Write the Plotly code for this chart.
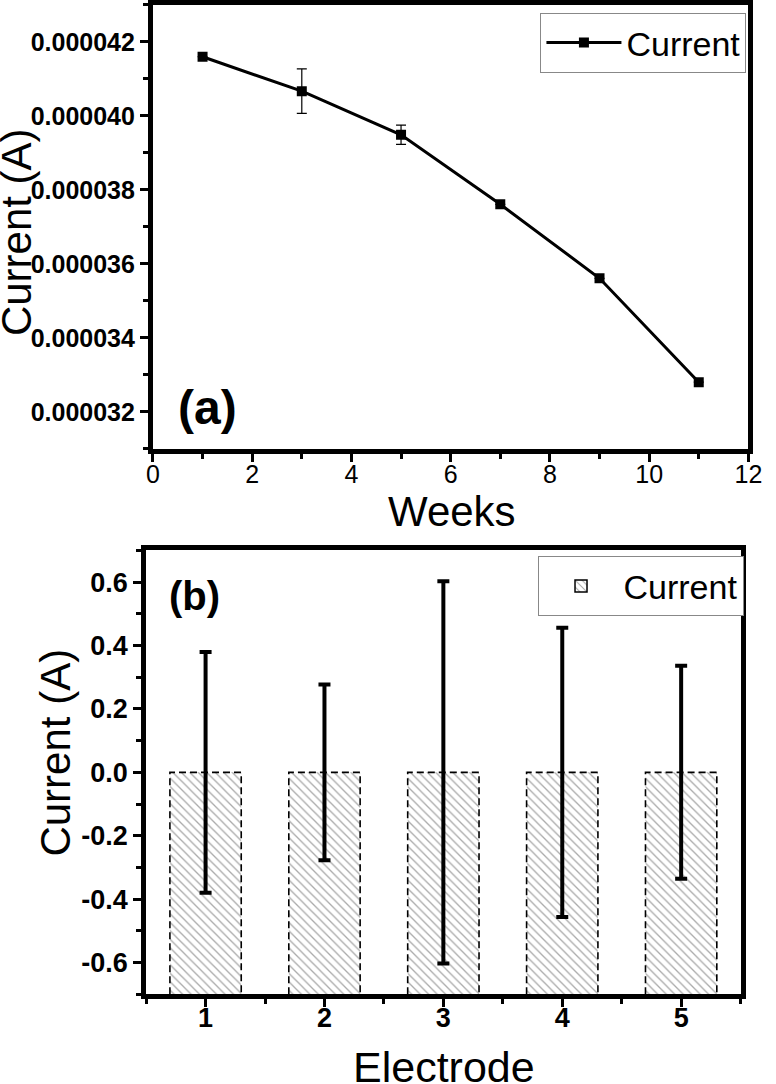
import plotly.graph_objects as go

W, H = 776, 1084

# ---------------- data ----------------
WEEKS = [1, 3, 5, 7, 9, 11]
CURRENT_A = [41.6e-6, 40.67e-6, 39.49e-6, 37.61e-6, 35.61e-6, 32.8e-6]
CURRENT_A_ERR = [0.0, 0.6e-6, 0.26e-6, 0.0, 0.0, 0.0]
X_TICKS_A = [0, 2, 4, 6, 8, 10, 12]
Y_TICKS_A = [32e-6, 34e-6, 36e-6, 38e-6, 40e-6, 42e-6]

ELECTRODES = [1, 2, 3, 4, 5]
CURRENT_B = [0.0, 0.0, 0.0, 0.0, 0.0]
CURRENT_B_ERR = [0.38, 0.277, 0.603, 0.456, 0.336]
Y_TICKS_B = [-0.6, -0.4, -0.2, 0.0, 0.2, 0.4, 0.6]

Y_RANGE_A = [31e-6, 43e-6]
X_RANGE_A = [0, 12]
Y_RANGE_B = [-0.7, 0.7]
X_RANGE_B = [0.5, 5.5]
BAR_W = 0.6

FONT = "Liberation Sans, Arial, sans-serif"


def px_x(p):
    return p / W


def px_y(p):
    return 1 - p / H


fig = go.Figure()

# ---------------- panel (a) ----------------
fig.add_trace(go.Scatter(
    x=WEEKS, y=CURRENT_A, mode="lines+markers", name="Current",
    line=dict(color="black", width=3),
    marker=dict(symbol="square", size=10, color="black"),
    error_y=dict(type="data", array=CURRENT_A_ERR, visible=True,
                 color="black", thickness=1.2, width=5),
    xaxis="x", yaxis="y", legend="legend",
))

# ---------------- panel (b) ----------------
base = Y_RANGE_B[0]
PATTERN = dict(shape="\\", size=6, solidity=0.22, fgcolor="#555555", bgcolor="white")
fig.add_trace(go.Bar(
    x=ELECTRODES, y=[v - base for v in CURRENT_B], base=base, width=BAR_W,
    marker=dict(color="white", pattern=PATTERN, line=dict(width=0)),
    showlegend=False, xaxis="x2", yaxis="y2",
))

# dashed outlines of the bars
ox, oy = [], []
for e, v in zip(ELECTRODES, CURRENT_B):
    ox += [e - BAR_W / 2, e - BAR_W / 2, e + BAR_W / 2, e + BAR_W / 2, None]
    oy += [base, v, v, base, None]
fig.add_trace(go.Scatter(
    x=ox, y=oy, mode="lines", line=dict(color="black", width=1.6, dash="7px,4px"),
    showlegend=False, hoverinfo="skip", xaxis="x2", yaxis="y2",
))

# error bars
fig.add_trace(go.Scatter(
    x=ELECTRODES, y=CURRENT_B, mode="markers",
    marker=dict(size=1, color="rgba(0,0,0,0)"),
    error_y=dict(type="data", array=CURRENT_B_ERR, visible=True,
                 color="black", thickness=4, width=6),
    showlegend=False, xaxis="x2", yaxis="y2",
))

# legend-only entry for the bars
fig.add_trace(go.Bar(
    x=[None], y=[None], name="Current",
    marker=dict(color="white", pattern=PATTERN, line=dict(width=1.5, color="black")),
    xaxis="x2", yaxis="y2", legend="legend2",
))

axis_common = dict(
    showline=True, linecolor="black", linewidth=5, mirror=True,
    ticks="outside", ticklen=8, tickwidth=3, tickcolor="black",
    showgrid=False, zeroline=False,
)
minor_common = dict(ticklen=5, tickwidth=3, ticks="outside", tickcolor="black")

fig.update_layout(
    width=W, height=H,
    margin=dict(l=0, r=0, t=0, b=0),
    paper_bgcolor="white", plot_bgcolor="white",
    font=dict(family=FONT, color="black"),
    barmode="overlay",
    xaxis=dict(
        domain=[px_x(150), px_x(762)], range=X_RANGE_A, anchor="y",
        tickvals=X_TICKS_A, tickfont=dict(size=25, family=FONT),
        ticklabelstandoff=-9,
        minor=dict(dtick=1, tick0=0, **minor_common),
        **axis_common,
    ),
    yaxis=dict(
        domain=[px_y(447), px_y(2)], range=Y_RANGE_A, anchor="x",
        tickvals=Y_TICKS_A, tickformat=".6f",
        tickfont=dict(size=25, family=FONT, weight="bold"),
        minor=dict(dtick=1e-6, tick0=31e-6, **minor_common),
        **axis_common,
    ),
    xaxis2=dict(
        domain=[px_x(143), px_x(754)], range=X_RANGE_B, anchor="y2",
        tickvals=ELECTRODES, tickfont=dict(size=27, family=FONT, weight="bold"),
        ticklabelstandoff=-13,
        minor=dict(dtick=1, tick0=0.5, **minor_common),
        **axis_common,
    ),
    yaxis2=dict(
        domain=[px_y(994), px_y(549)], range=Y_RANGE_B, anchor="x2",
        tickvals=Y_TICKS_B, ticktext=[f"{v:.1f}" for v in Y_TICKS_B],
        tickfont=dict(size=27, family=FONT, weight="bold"),
        minor=dict(dtick=0.2, tick0=-0.7, **minor_common),
        **axis_common,
    ),
    legend=dict(
        x=px_x(760), y=px_y(10), xanchor="right", yanchor="top",
        bordercolor="#888888", borderwidth=1, bgcolor="white",
        font=dict(size=34, family=FONT), itemwidth=75,
    ),
    legend2=dict(
        x=px_x(757), y=px_y(555), xanchor="right", yanchor="top",
        bordercolor="#888888", borderwidth=1, bgcolor="white",
        font=dict(size=34, family=FONT), itemwidth=75,
    ),
)

ann = [
    ("Current (A)", 10, 230, 42, "normal", -90),
    ("Weeks", 457, 510, 42, "normal", 0),
    ("(a)", 206, 406, 48, "bold", 0),
    ("Current (A)", 50, 752, 42, "normal", -90),
    ("Electrode", 449, 1067, 43, "normal", 0),
    ("(b)", 193, 595, 40, "bold", 0),
]
for text, ax, ay, size, weight, angle in ann:
    fig.add_annotation(
        text=text, x=px_x(ax), y=px_y(ay), xref="paper", yref="paper",
        xanchor="center", yanchor="middle", textangle=angle, showarrow=False,
        font=dict(size=size, family=FONT, weight=weight),
    )

fig.write_html(
    "out.html",
    config={"displayModeBar": False},
    post_script="document.body.style.margin='0';document.body.style.overflow='hidden';",
)
